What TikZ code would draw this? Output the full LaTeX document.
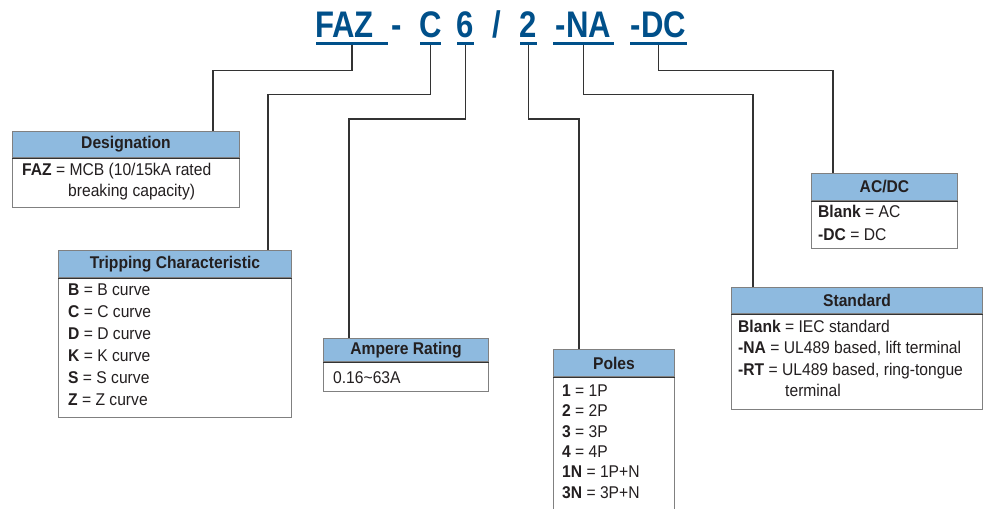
\documentclass[tikz,border=0pt]{standalone}
\usepackage{fontspec}
\setmainfont{Liberation Sans}[FakeStretch=0.92, BoldFeatures={FakeStretch=0.92}]
\newfontfamily\titlefont{Liberation Sans}[FakeStretch=0.84]
\definecolor{titleblue}{HTML}{00508A}
\definecolor{hdrblue}{HTML}{8EBADF}
\definecolor{boxgray}{HTML}{808080}
\definecolor{connc}{HTML}{333333}
\definecolor{txtc}{HTML}{231F20}
\begin{document}
\begin{tikzpicture}[x=1pt,y=-1pt,
  ttl/.style={anchor=base, inner sep=0pt, text=titleblue, font=\titlefont\bfseries\fontsize{37}{40}\selectfont},
  uline/.style={draw=titleblue, line width=2.6pt},
  conn/.style={draw=connc, line width=1.3pt},
  hdr/.style={draw=boxgray, fill=hdrblue, line width=1pt, anchor=north west, inner sep=0pt, text=txtc, font=\bfseries\fontsize{17}{20}\selectfont},
  bodybox/.style={draw=boxgray, fill=white, line width=1pt, anchor=north west, inner sep=0pt},
  sepline/.style={draw=connc, line width=1pt},
  txt/.style={anchor=base west, inner sep=0pt, text=txtc, font=\fontsize{17}{20}\selectfont}
]
\useasboundingbox (0,0) rectangle (986,509);
\fill[white] (0,0) rectangle (986,509);

% title
\node[ttl] (tFAZ) at (344.5,37) {FAZ};
\node[ttl] (tdash) at (397,37) {-};
\node[ttl] (tC) at (430.5,37) {C};
\node[ttl] (t6) at (465.5,37) {6};
\node[ttl] (tsl) at (496.5,37) {/};
\node[ttl] (t2) at (528.5,37) {2};
\node[ttl] (tNA) at (583.5,37) {-NA};
\node[ttl] (tDC) at (658.5,37) {-DC};
\draw[uline] (316,43.3) -- (388,43.3);
\draw[uline] (420,43.3) -- (441,43.3);
\draw[uline] (457,43.3) -- (474,43.3);
\draw[uline] (520,43.3) -- (537,43.3);
\draw[uline] (553,43.3) -- (614,43.3);
\draw[uline] (630,43.3) -- (687,43.3);

\coordinate (uFAZ) at (352,44.5);
\coordinate (uC) at (430.5,44.5);
\coordinate (u6) at (465.5,44.5);
\coordinate (u2) at (528.5,44.5);
\coordinate (uNA) at (583.5,44.5);
\coordinate (uDC) at (658.5,44.5);
\coordinate (kFAZ) at (213,70.5);
\coordinate (kC) at (268,94.5);
\coordinate (k6) at (349,119);
\coordinate (k2) at (579,119);
\coordinate (kNA) at (753,94.5);
\coordinate (kDC) at (833,70.5);

% Designation
\node[bodybox, minimum width=227pt, minimum height=50pt] (desB) at (12,157) {};
\node[hdr, minimum width=227pt, minimum height=26pt] (desH) at (12,131) {Designation};
\draw[sepline] (desH.south west) -- (desH.south east);
\node[txt] (des1) at (22,175) {\textbf{FAZ} = MCB (10/15kA rated};
\node[txt] (des2) at (68,196) {breaking capacity)};

% Tripping
\node[bodybox, minimum width=233pt, minimum height=140pt] (triB) at (58,277) {};
\node[hdr, minimum width=233pt, minimum height=27pt] (triH) at (58,250) {Tripping Characteristic};
\draw[sepline] (triH.south west) -- (triH.south east);
\node[txt] (tri1) at (68,295) {\textbf{B} = B curve};
\node[txt] (tri2) at (68,317) {\textbf{C} = C curve};
\node[txt] (tri3) at (68,339) {\textbf{D} = D curve};
\node[txt] (tri4) at (68,361) {\textbf{K} = K curve};
\node[txt] (tri5) at (68,383.5) {\textbf{S} = S curve};
\node[txt] (tri6) at (68,405.5) {\textbf{Z} = Z curve};

% Ampere
\node[bodybox, minimum width=165pt, minimum height=30pt] (ampB) at (323,361) {};
\node[hdr, minimum width=165pt, minimum height=23pt] (ampH) at (323,338) {Ampere Rating};
\draw[sepline] (ampH.south west) -- (ampH.south east);
\node[txt] (amp1) at (333,383) {0.16\char"007E 63A};

% Poles
\node[bodybox, minimum width=121pt, minimum height=145pt] (polB) at (553,376) {};
\node[hdr, minimum width=121pt, minimum height=27pt] (polH) at (553,349) {Poles};
\draw[sepline] (polH.south west) -- (polH.south east);
\node[txt] (pol1) at (562,396) {\textbf{1} = 1P};
\node[txt] (pol2) at (562,416.5) {\textbf{2} = 2P};
\node[txt] (pol3) at (562,437) {\textbf{3} = 3P};
\node[txt] (pol4) at (562,457) {\textbf{4} = 4P};
\node[txt] (pol5) at (562,477.5) {\textbf{1N} = 1P+N};
\node[txt] (pol6) at (562,498) {\textbf{3N} = 3P+N};

% Standard
\node[bodybox, minimum width=251pt, minimum height=96pt] (stdB) at (731,313) {};
\node[hdr, minimum width=251pt, minimum height=26pt] (stdH) at (731,287) {Standard};
\draw[sepline] (stdH.south west) -- (stdH.south east);
\node[txt] (std1) at (738,332) {\textbf{Blank} = IEC standard};
\node[txt] (std2) at (738,353.5) {\textbf{-NA} = UL489 based, lift terminal};
\node[txt] (std3) at (738,375) {\textbf{-RT} = UL489 based, ring-tongue};
\node[txt] (std4) at (785,396) {terminal};

% AC/DC
\node[bodybox, minimum width=146pt, minimum height=48pt] (acB) at (811,200) {};
\node[hdr, minimum width=146pt, minimum height=27pt] (acH) at (811,173) {AC/DC};
\draw[sepline] (acH.south west) -- (acH.south east);
\node[txt] (ac1) at (818,217) {\textbf{Blank} = AC};
\node[txt] (ac2) at (818,240) {\textbf{-DC} = DC};

% connectors
\draw[conn] (uFAZ) |- (kFAZ) -- (kFAZ |- desH.north);
\draw[conn] (uC) |- (kC) -- (kC |- triH.north);
\draw[conn] (u6) |- (k6) -- (k6 |- ampH.north);
\draw[conn] (u2) |- (k2) -- (k2 |- polH.north);
\draw[conn] (uNA) |- (kNA) -- (kNA |- stdH.north);
\draw[conn] (uDC) |- (kDC) -- (kDC |- acH.north);
\end{tikzpicture}
\end{document}
